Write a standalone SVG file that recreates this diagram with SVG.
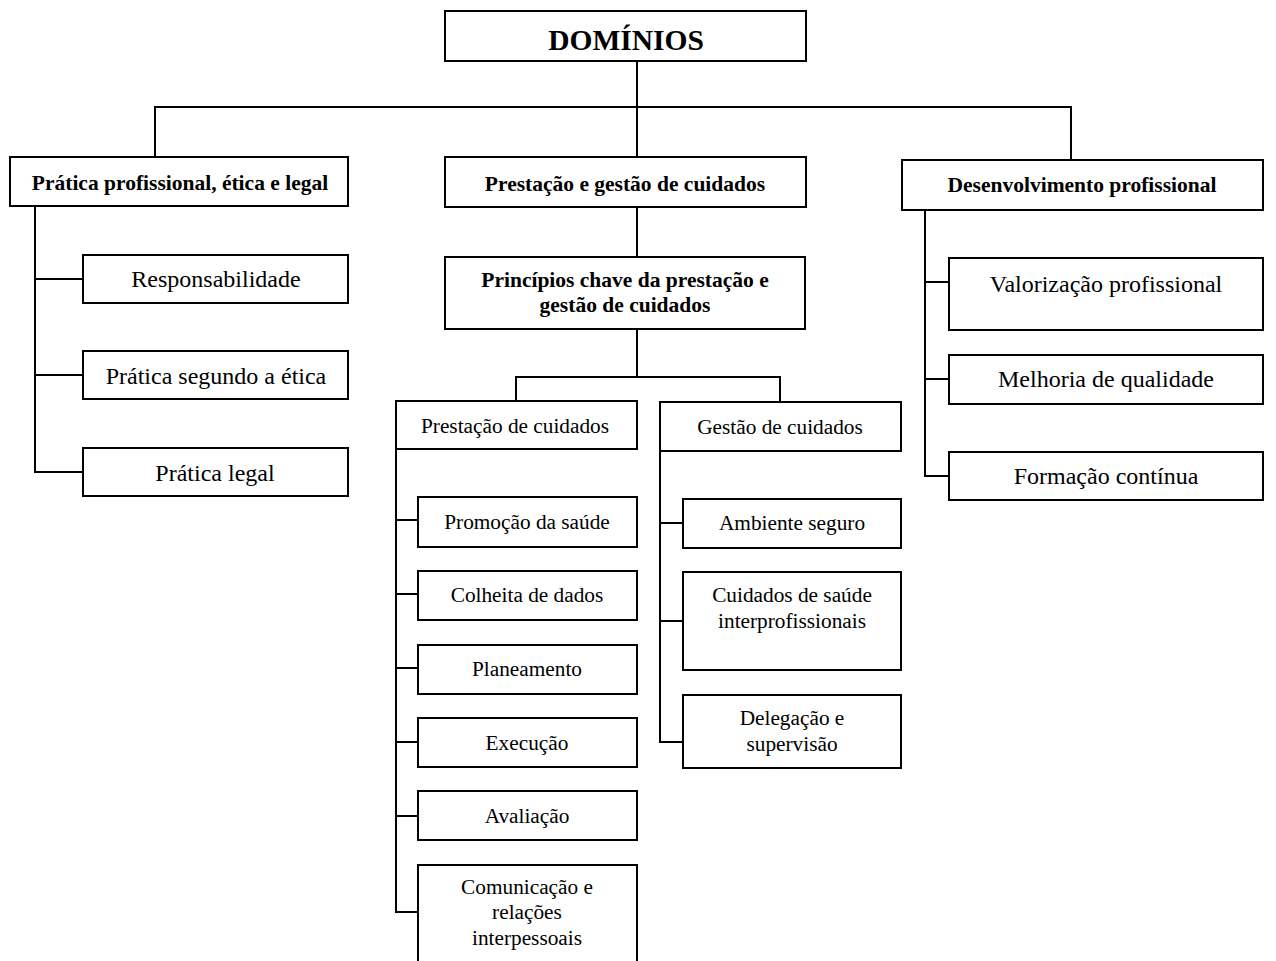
<svg xmlns="http://www.w3.org/2000/svg" width="1276" height="961" viewBox="0 0 1276 961">
  <style>
    .box { fill: #ffffff; stroke: #000000; stroke-width: 2; }
    .wire { fill: none; stroke: #000000; stroke-width: 2; }
    text { font-family: "Liberation Serif", "Times New Roman", serif; fill: #000000; text-anchor: middle; }
    .title { font-size: 29.5px; font-weight: bold; }
    .head { font-size: 21.5px; font-weight: bold; }
    .big { font-size: 24px; }
    .small { font-size: 21.3px; }
  </style>
  <rect width="1276" height="961" fill="#ffffff"/>

  <!-- connectors -->
  <g id="connectors" class="wire">
    <path d="M637 61 V157"/>
    <path d="M155 157 V107 H1071 V160"/>
    <!-- left branch -->
    <path d="M35 206 V472 H83 M35 279 H83 M35 375 H83"/>
    <!-- middle branch -->
    <path d="M637 207 V257"/>
    <path d="M637 329 V377 M516 401 V377 H780 V402"/>
    <path d="M396 449 V912 H418 M396 520 H418 M396 594 H418 M396 668 H418 M396 742 H418 M396 816 H418"/>
    <path d="M660 451 V742 H683 M660 523 H683 M660 621 H683"/>
    <!-- right branch -->
    <path d="M925 210 V476 H949 M925 282 H949 M925 379 H949"/>
  </g>

  <g id="dominios">
    <rect class="box" x="445" y="11" width="361" height="50"/>
    <text class="title" x="626" y="50">DOMÍNIOS</text>
  </g>

  <g id="pratica-profissional">
    <rect class="box" x="10" y="157" width="338" height="49"/>
    <text class="head" x="180" y="190">Prática profissional, ética e legal</text>
  </g>
  <g id="responsabilidade">
    <rect class="box" x="83" y="255" width="265" height="48"/>
    <text class="big" x="216" y="287">Responsabilidade</text>
  </g>
  <g id="pratica-etica">
    <rect class="box" x="83" y="351" width="265" height="48"/>
    <text class="big" x="216" y="384">Prática segundo a ética</text>
  </g>
  <g id="pratica-legal">
    <rect class="box" x="83" y="448" width="265" height="48"/>
    <text class="big" x="215" y="481">Prática legal</text>
  </g>

  <g id="prestacao-gestao">
    <rect class="box" x="445" y="157" width="361" height="50"/>
    <text class="head" x="625" y="191">Prestação e gestão de cuidados</text>
  </g>
  <g id="principios">
    <rect class="box" x="445" y="257" width="360" height="72"/>
    <text class="head" x="625" y="287">Princípios chave da prestação e</text>
    <text class="head" x="625" y="312">gestão de cuidados</text>
  </g>

  <g id="prestacao-cuidados">
    <rect class="box" x="396" y="401" width="241" height="48"/>
    <text class="small" x="515" y="433">Prestação de cuidados</text>
  </g>
  <g id="promocao">
    <rect class="box" x="418" y="497" width="219" height="50"/>
    <text class="small" x="527" y="529">Promoção da saúde</text>
  </g>
  <g id="colheita">
    <rect class="box" x="418" y="571" width="219" height="49"/>
    <text class="small" x="527" y="602">Colheita de dados</text>
  </g>
  <g id="planeamento">
    <rect class="box" x="418" y="645" width="219" height="49"/>
    <text class="small" x="527" y="676">Planeamento</text>
  </g>
  <g id="execucao">
    <rect class="box" x="418" y="718" width="219" height="49"/>
    <text class="small" x="527" y="750">Execução</text>
  </g>
  <g id="avaliacao">
    <rect class="box" x="418" y="791" width="219" height="49"/>
    <text class="small" x="527" y="823">Avaliação</text>
  </g>
  <g id="comunicacao">
    <rect class="box" x="418" y="865" width="219" height="97"/>
    <text class="small" x="527" y="894">Comunicação e</text>
    <text class="small" x="527" y="919">relações</text>
    <text class="small" x="527" y="945">interpessoais</text>
  </g>

  <g id="gestao-cuidados">
    <rect class="box" x="660" y="402" width="241" height="49"/>
    <text class="small" x="780" y="434">Gestão de cuidados</text>
  </g>
  <g id="ambiente">
    <rect class="box" x="683" y="499" width="218" height="49"/>
    <text class="small" x="792" y="530">Ambiente seguro</text>
  </g>
  <g id="interprofissionais">
    <rect class="box" x="683" y="572" width="218" height="98"/>
    <text class="small" x="792" y="602">Cuidados de saúde</text>
    <text class="small" x="792" y="628">interprofissionais</text>
  </g>
  <g id="delegacao">
    <rect class="box" x="683" y="695" width="218" height="73"/>
    <text class="small" x="792" y="725">Delegação e</text>
    <text class="small" x="792" y="751">supervisão</text>
  </g>

  <g id="desenvolvimento">
    <rect class="box" x="902" y="160" width="361" height="50"/>
    <text class="head" x="1082" y="192">Desenvolvimento profissional</text>
  </g>
  <g id="valorizacao">
    <rect class="box" x="949" y="258" width="314" height="72"/>
    <text class="big" x="1106" y="292">Valorização profissional</text>
  </g>
  <g id="melhoria">
    <rect class="box" x="949" y="355" width="314" height="49"/>
    <text class="big" x="1106" y="387">Melhoria de qualidade</text>
  </g>
  <g id="formacao">
    <rect class="box" x="949" y="452" width="314" height="48"/>
    <text class="big" x="1106" y="484">Formação contínua</text>
  </g>
</svg>
